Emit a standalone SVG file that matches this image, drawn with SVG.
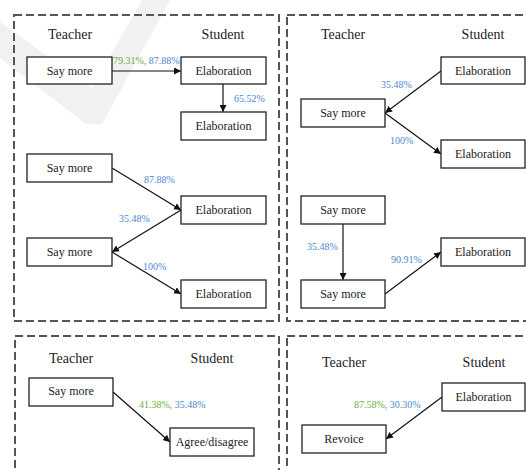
<svg xmlns="http://www.w3.org/2000/svg" width="526" height="470" viewBox="0 0 526 470">
<defs>
<marker id="ah" viewBox="0 0 10 10" refX="10" refY="5" markerWidth="7" markerHeight="7" markerUnits="userSpaceOnUse" orient="auto">
<path d="M0,0 L10,5 L0,10 z" fill="#111"/>
</marker>
</defs>
<style>
.panel{fill:none;stroke:#555;stroke-width:2;stroke-dasharray:8,4}
.box{fill:#fff;stroke:#222;stroke-width:1.3}
.c{stroke:#111;stroke-width:1.2;fill:none;marker-end:url(#ah)}
</style>
<rect width="526" height="470" fill="#fff"/>
<polygon points="0,22 92,88 142,0 170,0 102,124 86,124 0,58" fill="#f1f1f1"/>
<g id="panels">
<rect class="panel" x="14" y="15" width="265" height="306"/>
<rect class="panel" x="287" y="15" width="245" height="306"/>
<rect class="panel" x="15" y="336" width="264" height="150"/>
<rect class="panel" x="287" y="336" width="245" height="150"/>
</g>
<g id="headers" font-family="'Liberation Serif', 'Times New Roman', serif" font-size="14" fill="#222" text-anchor="middle">
<text x="70" y="39">Teacher</text>
<text x="223" y="39">Student</text>
<text x="343" y="39">Teacher</text>
<text x="483" y="39">Student</text>
<text x="71" y="363">Teacher</text>
<text x="212" y="363">Student</text>
<text x="344" y="367">Teacher</text>
<text x="484" y="367">Student</text>
</g>
<g id="connectors">
<line class="c" x1="112" y1="71" x2="181" y2="71"/>
<line class="c" x1="223" y1="84" x2="223" y2="112"/>
<line class="c" x1="112" y1="168" x2="181" y2="210"/>
<line class="c" x1="181" y1="210" x2="112" y2="252"/>
<line class="c" x1="112" y1="252" x2="181" y2="294"/>
<line class="c" x1="441" y1="71" x2="385" y2="113"/>
<line class="c" x1="385" y1="113" x2="441" y2="154"/>
<line class="c" x1="343" y1="224" x2="343" y2="280"/>
<line class="c" x1="385" y1="294" x2="441" y2="252"/>
<line class="c" x1="113" y1="392" x2="170" y2="442"/>
<line class="c" x1="442" y1="397" x2="386" y2="439"/>
</g>
<g id="labels" font-family="'Liberation Serif', 'Times New Roman', serif" font-size="10" fill="#4a88cc">
<text x="113" y="64"><tspan fill="#6aae3c">79.31%,</tspan> 87.88%</text>
<text x="234" y="102">65.52%</text>
<text x="144" y="183">87.88%</text>
<text x="119" y="222">35.48%</text>
<text x="143" y="270">100%</text>
<text x="381" y="88">35.48%</text>
<text x="390" y="144">100%</text>
<text x="307" y="250">35.48%</text>
<text x="391" y="263">90.91%</text>
<text x="139" y="408"><tspan fill="#6aae3c">41.38%,</tspan> 35.48%</text>
<text x="354" y="408"><tspan fill="#6aae3c">87.58%,</tspan> 30.30%</text>
</g>
<g id="nodes" font-family="'Liberation Serif', 'Times New Roman', serif" font-size="12" fill="#222" text-anchor="middle">
<g id="n1"><rect class="box" x="27" y="57" width="85" height="27"/><text x="69.5" y="74.5">Say more</text></g>
<g id="n2"><rect class="box" x="181" y="57" width="85" height="27"/><text x="223.5" y="74.5">Elaboration</text></g>
<g id="n3"><rect class="box" x="181" y="112" width="85" height="28"/><text x="223.5" y="130">Elaboration</text></g>
<g id="n4"><rect class="box" x="27" y="154" width="85" height="28"/><text x="69.5" y="172">Say more</text></g>
<g id="n5"><rect class="box" x="181" y="196" width="85" height="28"/><text x="223.5" y="214">Elaboration</text></g>
<g id="n6"><rect class="box" x="27" y="238" width="85" height="28"/><text x="69.5" y="256">Say more</text></g>
<g id="n7"><rect class="box" x="181" y="280" width="85" height="28"/><text x="223.5" y="298">Elaboration</text></g>
<g id="n8"><rect class="box" x="441" y="57" width="84" height="27"/><text x="483" y="74.5">Elaboration</text></g>
<g id="n9"><rect class="box" x="301" y="99" width="84" height="28"/><text x="343" y="117">Say more</text></g>
<g id="n10"><rect class="box" x="441" y="140" width="84" height="28"/><text x="483" y="158">Elaboration</text></g>
<g id="n11"><rect class="box" x="301" y="196" width="84" height="28"/><text x="343" y="214">Say more</text></g>
<g id="n12"><rect class="box" x="441" y="238" width="84" height="28"/><text x="483" y="256">Elaboration</text></g>
<g id="n13"><rect class="box" x="301" y="280" width="84" height="28"/><text x="343" y="298">Say more</text></g>
<g id="n14"><rect class="box" x="29" y="378" width="84" height="28"/><text x="71" y="395">Say more</text></g>
<g id="n15"><rect class="box" x="170" y="428" width="84" height="28"/><text x="212" y="446">Agree/disagree</text></g>
<g id="n16"><rect class="box" x="442" y="383" width="83" height="28"/><text x="483.5" y="401">Elaboration</text></g>
<g id="n17"><rect class="box" x="302" y="425" width="84" height="28"/><text x="344" y="443">Revoice</text></g>
</g>
</svg>
